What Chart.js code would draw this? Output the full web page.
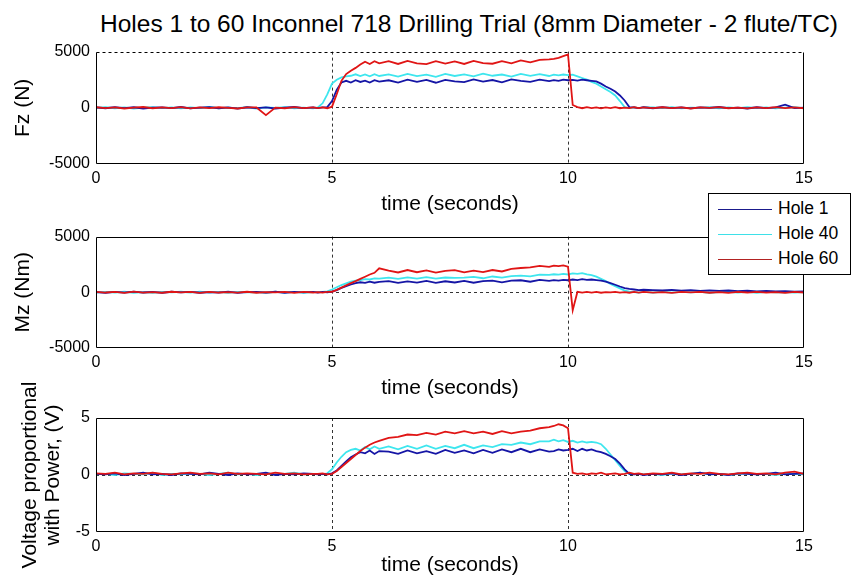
<!DOCTYPE html>
<html lang="en">
<head>
    <meta charset="UTF-8">
    <title>Holes 1 to 60 Inconnel 718 Drilling Trial</title>
    <script src="https://cdn.jsdelivr.net/npm/chart.js"></script>
    <style>
        body { margin: 0; background: #fff; font-family: "Liberation Sans", Arial, sans-serif; }
        #wrap { position: relative; width: 855px; height: 583px; overflow: hidden; background: #fff; }
        #wrap canvas { position: absolute; left: 0; }
        #title { position: absolute; left: 100px; top: 10px; font-size: 24.5px; line-height: 28px; white-space: nowrap; color: #000; }
        #legend { position: absolute; left: 708px; top: 193px; width: 143px; height: 82px; box-sizing: border-box; border: 1px solid #000; background: #fff; }
        .row { position: absolute; left: 9px; height: 24px; line-height: 24px; font-size: 17.5px; white-space: nowrap; color: #000; }
        .row span { display: inline-block; width: 54px; height: 0; border-top: 1px solid; vertical-align: middle; margin-right: 6px; }
    </style>
</head>
<body>
<div id="wrap">
    <div id="title">Holes 1 to 60 Inconnel 718 Drilling Trial (8mm Diameter - 2 flute/TC)</div>
    <canvas id="fzChart" width="855" height="181" style="top:36px"></canvas>
    <canvas id="mzChart" width="855" height="180" style="top:221px"></canvas>
    <canvas id="vChart" width="855" height="208" style="top:370px"></canvas>
    <div id="legend">
        <div class="row" style="top:2px"><span style="color:#1a1a8c"></span>Hole 1</div>
        <div class="row" style="top:27px"><span style="color:#3ee0e8"></span>Hole 40</div>
        <div class="row" style="top:52px"><span style="color:#b22222"></span>Hole 60</div>
    </div>
</div>

<script>
    // sample times (s), denser around the start/end of the cut
    const times = [0, 0.2, 0.4, 0.6, 0.8, 1, 1.2, 1.4, 1.6, 1.8, 2, 2.2, 2.4, 2.6, 2.8, 3, 3.2, 3.4, 3.6, 3.8, 4, 4.2, 4.4, 4.6,
        4.7, 4.8, 4.9, 5, 5.1, 5.2, 5.3, 5.4, 5.5, 5.6, 5.7, 5.8, 5.9, 6,
        6.2, 6.4, 6.6, 6.8, 7, 7.2, 7.4, 7.6, 7.8, 8, 8.2, 8.4, 8.6, 8.8, 9, 9.2, 9.4, 9.6,
        9.7, 9.8, 9.9, 10, 10.1, 10.2, 10.3, 10.4, 10.5, 10.6, 10.7, 10.8, 10.9, 11, 11.1, 11.2, 11.3, 11.4, 11.5, 11.6,
        11.8, 12, 12.2, 12.4, 12.6, 12.8, 13, 13.2, 13.4, 13.6, 13.8, 14, 14.2, 14.4, 14.6, 14.8, 15];

    // Fz (N)
    const fz1 = [30, -40, 60, -20, 50, -60, 20, 40, -30, 70, -50, 10, 60, -40, 30, -70, 50, -20, 40, -60, 20, 70, -30, 40,
        -20, 30, 60, 600, 1600, 2250, 2400, 2250, 2450, 2300, 2420, 2250, 2460, 2330,
        2450, 2250, 2500, 2300, 2480, 2230, 2490, 2350, 2280, 2520, 2330, 2470, 2260, 2530, 2400, 2300, 2510, 2380,
        2460, 2390, 2500, 2450, 2480, 2420, 2500, 2450, 2400, 2350, 2150, 1900, 1700, 1450, 1100, 650, 60, 40, -30, 50,
        -40, 60, -20, 30, -50, 40, -10, 70, -30, 20, -60, 50, -20, 30, 280, -30, 20];
    const fz40 = [-20, 50, -40, 30, -60, 20, 60, -30, 40, -50, 30, -20, 70, -40, 20, -30, 50, -60, 30, -10, 60, -40, 20, -50,
        30, 400, 1200, 2150, 2500, 2700, 2800, 2850, 2980, 2820, 2970, 2800, 2990, 2830,
        2980, 2780, 3020, 2820, 2950, 2760, 3010, 2830, 2980, 2790, 3040, 2850, 2960, 2780, 3020, 2850, 2990, 2830,
        2950, 2880, 2960, 2900, 2950, 2800, 2650, 2500, 2300, 2150, 1900, 1650, 1400, 1100, 600, 60, -30, 40, -20, 30,
        40, -30, 60, -50, 20, -10, 50, -40, 30, -20, 60, -30, 40, -50, 20, 50, -30];
    const fz60 = [50, -30, 40, -60, 20, 70, -40, 30, -20, 60, -50, 40, -30, 50, -10, -60, 40, 30, -650, 20, -40, 60, -30, 40,
        -20, 30, -40, 100, 1200, 2400, 3000, 3300, 3550, 3850, 4100, 3900, 4150, 3950,
        4150, 3900, 4170, 3950, 3880, 4150, 3930, 4120, 3900, 4180, 3980, 3920, 4150, 3960, 4220, 4050, 4260, 4300,
        4350, 4450, 4600, 4750, 250, 60, -40, 50, -30, 40, -50, 30, -20, 60, -40, 20, -30, 50, -20, 40,
        -30, 50, -20, 40, -60, 30, -10, 60, -40, 20, -50, 40, -30, 60, -20, 30, -40];

    // Mz (Nm)
    const mz1 = [20, -50, 40, -30, 60, -20, 30, -60, 50, -10, 40, -40, 20, -30, 60, -50, 10, 40, -20, 50, -40, 30, -10, 40,
        -20, 30, -10, 60, 200, 400, 550, 700, 820, 900, 850, 960, 860, 940,
        1000, 850, 980, 870, 1020, 840, 990, 880, 1030, 860, 1000, 1050, 900, 1040, 1080, 950, 1110, 1020,
        1100, 1050, 1120, 1080, 1150, 1100, 1180, 1120, 1150, 1100, 1050, 950, 820, 680, 520, 380, 300, 250, 200, 230,
        200, 160, 220, 150, 190, 130, 170, 120, 160, 100, 140, 90, 130, 80, 110, 60, 90];
    const mz40 = [-30, 40, -20, 50, -40, 20, -60, 30, -10, 50, -30, 60, -20, 40, -50, 30, -10, 20, -40, 50, -20, 30, -50, 20,
        10, 40, 80, 250, 450, 650, 800, 950, 1050, 1100, 1180, 1150, 1250, 1220,
        1320, 1200, 1340, 1220, 1360, 1230, 1330, 1290, 1310, 1380, 1260, 1420, 1320, 1460, 1500, 1430, 1580, 1560,
        1620, 1580, 1650, 1600, 1700, 1650, 1720, 1600, 1550, 1400, 1200, 1000, 750, 550, 350, 150, 60, 20, -30, 40,
        -20, 50, -30, 40, -10, 30, -40, 20, 50, -20, 30, -50, 40, -10, 20, -30, 10];
    const mz60 = [40, -20, 30, -50, 60, -30, 20, -40, 50, -10, 30, -60, 40, -20, 10, -30, 50, -40, 20, -10, 40, -50, 30, -20,
        20, -30, 40, 50, 220, 420, 620, 820, 1000, 1200, 1400, 1600, 1750, 2150,
        1950, 1780, 2000, 1800, 1960, 1760, 1930, 1990, 1790, 1950, 1820, 2000, 1870, 2100, 2180, 2230, 2380, 2280,
        2400, 2350, 2420, 2300, -1600, 50, -30, 40, -20, 30, -40, 20, -10, 40, -30, 20, -40, 30, -20, 40,
        -30, 20, -50, 40, -10, 30, -40, 20, -60, 30, -20, 40, -30, 10, -50, 30, -20];

    // voltage proportional with power (V)
    const v1 = [0.1, 0.05, 0.15, 0, 0.1, 0.2, 0.05, 0.1, 0, 0.15, 0.1, 0.05, 0.2, 0.1, 0, 0.15, 0.05, 0.1, 0.2, 0, 0.1, 0.05, 0.15, 0.1,
        0.05, 0.1, 0.05, 0.15, 0.4, 0.8, 1.2, 1.55, 1.8, 2.0, 1.9, 2.15, 1.85, 2.1,
        2.05, 1.85, 2.15, 1.9, 2.1, 1.85, 2.2, 1.95, 2.15, 1.9, 2.2, 1.95, 2.25, 2.0, 2.3, 2.0, 2.25, 2.05,
        2.1, 2.25, 2.15, 2.2, 2.3, 2.1, 2.3, 2.15, 2.25, 2.1, 2.0, 1.85, 1.65, 1.4, 1.0, 0.5, 0.1, 0.05, 0.1, 0,
        0.1, 0.05, 0.15, 0, 0.1, 0.2, 0.05, 0.1, 0, 0.15, 0.1, 0.05, 0.1, 0.2, 0.05, 0.1, 0.15];
    const v40 = [0.05, 0.1, 0, 0.15, 0.1, 0.05, 0.2, 0, 0.1, 0.05, 0.15, 0.1, 0, 0.1, 0.2, 0.05, 0.1, 0, 0.15, 0.05, 0.1, 0.2, 0.05, 0.1,
        0.1, 0.05, 0.15, 0.5, 1.1, 1.6, 2.0, 2.2, 2.3, 2.15, 2.45, 2.25, 2.5, 2.3,
        2.5, 2.25, 2.55, 2.3, 2.6, 2.3, 2.55, 2.35, 2.65, 2.35, 2.6, 2.45, 2.7, 2.65, 2.85, 2.7, 2.95, 2.95,
        3.1, 2.95, 3.05, 2.9, 3.0, 2.85, 2.95, 2.85, 2.9, 2.85, 2.7, 2.3, 1.8, 1.3, 0.8, 0.35, 0.1, 0.05, 0.1, 0.05,
        0.1, 0, 0.15, 0.05, 0.1, 0.2, 0.05, 0.1, 0, 0.1, 0.15, 0.05, 0.1, 0, 0.15, 0.1, 0.05];
    const v60 = [0.15, 0.1, 0.2, 0.05, 0.15, 0.1, 0.2, 0.1, 0.05, 0.15, 0.2, 0.1, 0.15, 0.05, 0.2, 0.1, 0.15, 0.1, 0.05, 0.2, 0.1, 0.15, 0.05, 0.1,
        0.1, 0.15, 0.05, 0.1, 0.35, 0.7, 1.05, 1.4, 1.75, 2.1, 2.4, 2.65, 2.85, 3.0,
        3.25, 3.35, 3.55, 3.5, 3.7, 3.55, 3.8, 3.65, 3.85, 3.65, 3.8, 3.6, 3.85, 3.65, 3.8, 3.9, 4.1, 4.2,
        4.3, 4.45, 4.35, 4.1, 0.2, 0.1, 0.15, 0.05, 0.15, 0.1, 0.2, 0.05, 0.1, 0.15, 0.05, 0.1, 0.2, 0.1, 0.15, 0.05,
        0.15, 0.1, 0.2, 0.05, 0.15, 0.1, 0.2, 0.1, 0.05, 0.15, 0.2, 0.1, 0.15, 0.05, 0.2, 0.3, 0.1];

    const xTicks = [0, 5, 10, 15];
    const holeNames = ['Hole 1', 'Hole 40', 'Hole 60'];
    const holeColors = ['#1515a5', '#3ee6ee', '#e01515'];

    const fontFamily = '"Liberation Sans", Arial, sans-serif';

    // MATLAB style axes box; subplot 1 keeps a dashed top edge
    const framePlugin = {
        id: 'frame',
        afterDraw(chart, args, opts) {
            const ctx = chart.ctx;
            const a = chart.chartArea;
            const l = Math.round(a.left) + 0.5, r = Math.round(a.right) - 0.5;
            const t = Math.round(a.top) + 0.5, b = Math.round(a.bottom) - 0.5;
            ctx.save();
            ctx.strokeStyle = '#000';
            ctx.lineWidth = 1;
            ctx.setLineDash([]);
            ctx.beginPath();
            ctx.moveTo(l, t); ctx.lineTo(l, b); ctx.lineTo(r, b); ctx.lineTo(r, t);
            ctx.stroke();
            ctx.beginPath();
            if (opts.dashedTop) ctx.setLineDash([3, 3]);
            ctx.moveTo(l, t); ctx.lineTo(r, t);
            ctx.stroke();
            ctx.restore();
        }
    };

    function pts(values) {
        return times.map((t, i) => ({ x: t, y: values[i] }));
    }

    function makeChart(id, series, yMax, yTitle, padTop, yTitlePad, yLineHeight, xHeight, dashedTop) {
        const order = [1, 2, 0];
        return new Chart(document.getElementById(id), {
            type: 'line',
            data: {
                datasets: series.map((s, i) => ({
                    label: holeNames[i],
                    data: pts(s),
                    borderColor: holeColors[i],
                    borderWidth: 1.8,
                    pointRadius: 0,
                    tension: 0,
                    order: order[i]
                }))
            },
            options: {
                responsive: false,
                animation: false,
                layout: { padding: { left: 0, right: 51, top: padTop, bottom: 0 } },
                plugins: { legend: { display: false }, tooltip: { enabled: false }, frame: { dashedTop: dashedTop } },
                scales: {
                    x: {
                        type: 'linear', min: 0, max: 15,
                        afterFit: s => { s.height = xHeight; },
                        afterBuildTicks: s => { s.ticks = xTicks.map(v => ({ value: v })); },
                        ticks: { color: '#000', font: { family: fontFamily, size: 16 }, padding: 5, maxRotation: 0,
                                 callback: v => String(v) },
                        grid: { lineWidth: 1, drawTicks: false,
                                color: c => (c.tick && c.tick.value > 0 && c.tick.value < 15) ? '#333' : 'rgba(0,0,0,0)' },
                        border: { display: false, dash: [3, 3] },
                        title: { display: true, text: 'time (seconds)', color: '#000',
                                 font: { family: fontFamily, size: 21 }, padding: 0 }
                    },
                    y: {
                        min: -yMax, max: yMax,
                        afterFit: s => { s.width = 96; },
                        afterBuildTicks: s => { s.ticks = [-yMax, 0, yMax].map(v => ({ value: v })); },
                        ticks: { color: '#000', font: { family: fontFamily, size: 16 }, padding: 6,
                                 callback: v => String(v) },
                        grid: { lineWidth: 1, drawTicks: false,
                                color: c => (c.tick && c.tick.value === 0) ? '#333' : 'rgba(0,0,0,0)' },
                        border: { display: false, dash: [3, 3] },
                        title: { display: true, text: yTitle, color: '#000',
                                 font: { family: fontFamily, size: 21, lineHeight: yLineHeight },
                                 padding: { top: yTitlePad, bottom: 0 } }
                    }
                }
            },
            plugins: [framePlugin]
        });
    }

    makeChart('fzChart', [fz1, fz40, fz60], 5000, 'Fz (N)', 12, 11, 1.2, 53, true);
    makeChart('mzChart', [mz1, mz40, mz60], 5000, 'Mz (Nm)', 12, 11, 1.2, 53, false);
    makeChart('vChart', [v1, v40, v60], 5, ['Voltage proportional', 'with Power, (V)'], 48, 19, 1.1, 46, false);
</script>
</body>
</html>
